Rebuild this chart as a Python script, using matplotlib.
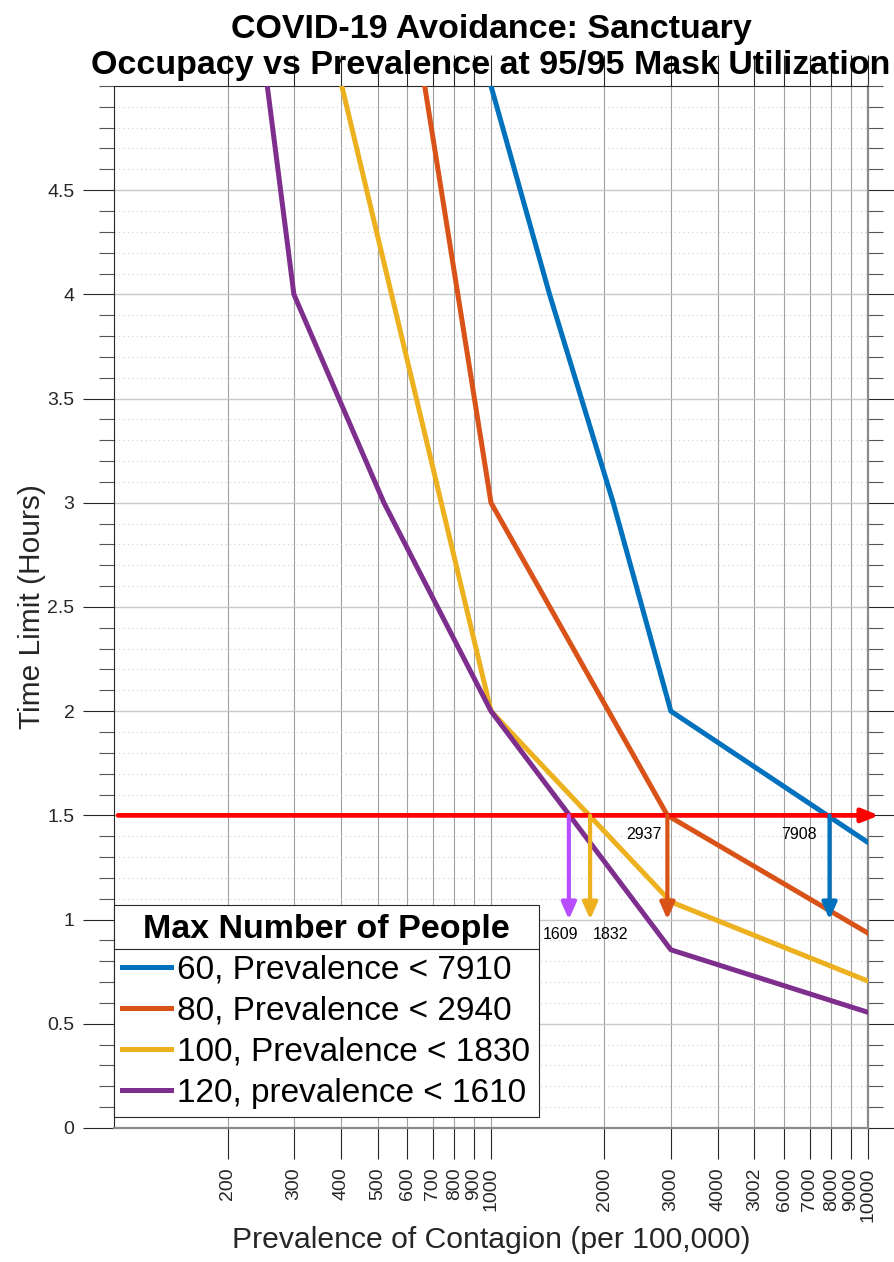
import numpy as np
import matplotlib
matplotlib.use("Agg")
import matplotlib.pyplot as plt
from matplotlib.ticker import FixedLocator, FixedFormatter, MultipleLocator, NullLocator
from matplotlib.lines import Line2D

plt.rcParams["font.family"] = ["Liberation Sans", "DejaVu Sans"]

# prevalence (per 100,000) vs allowed time (hours), one curve per occupancy
prev_60 = [1000, 1430, 2110, 3000, 10000]
hours_60 = [5.0, 4.0, 3.0, 2.0, 1.37]
prev_80 = [667, 1000, 2937, 10000]
hours_80 = [5.0, 3.0, 1.5, 0.935]
prev_100 = [402, 1000, 3000, 10000]
hours_100 = [5.0, 2.0, 1.085, 0.705]
prev_120 = [255, 300, 520, 1000, 3000, 10000]
hours_120 = [5.0, 4.0, 3.0, 2.0, 0.855, 0.555]

series_labels = ["60, Prevalence < 7910", "80, Prevalence < 2940",
                 "100, Prevalence < 1830", "120, prevalence < 1610"]
series_colors = ["#0072BD", "#D95319", "#EDB120", "#7E2F8E"]

# 1.5 hour limit and where each curve crosses it
target_hours = 1.5
arrow_floor = 1.0
red_start = 102.5
red_end = 10700
crossings = [1609, 1832, 2937, 7908]
crossing_colors = ["#B84DFF", "#EDB120", "#D95319", "#0072BD"]

x_ticks = [200, 300, 400, 500, 600, 700, 800, 900, 1000,
           2000, 3000, 4000, 5000, 6000, 7000, 8000, 9000, 10000]
x_ticklabels = ["200", "300", "400", "500", "600", "700", "800", "900", "1000",
                "2000", "3000", "4000", "3002", "6000", "7000", "8000", "9000", "10000"]
y_ticks = [0, 0.5, 1, 1.5, 2, 2.5, 3, 3.5, 4, 4.5]
y_ticklabels = ["0", "0.5", "1", "1.5", "2", "2.5", "3", "3.5", "4", "4.5"]

fig = plt.figure(figsize=(8.95, 12.62), dpi=100)
ax = fig.add_axes([0.1274, 0.1062, 0.8424, 0.8257])

lines = []
for xs, ys, c in zip([prev_60, prev_80, prev_100, prev_120],
                     [hours_60, hours_80, hours_100, hours_120], series_colors):
    (ln,) = ax.plot(xs, ys, color=c, lw=3.6, zorder=3)
    lines.append(ln)

ax.set_xscale("log")
ax.set_xlim(100, 10000)
ax.set_ylim(0, 5)

# horizontal red arrow at the time limit
ax.annotate("", xy=(red_end, target_hours), xytext=(red_start, target_hours),
            arrowprops=dict(arrowstyle="-|>,head_length=0.5,head_width=0.2",
                            color="#FF0000", lw=3.4, shrinkA=0, shrinkB=0,
                            mutation_scale=20),
            annotation_clip=False, zorder=4)

# drop arrows and values
label_offsets = [(-6, -11), (15, -11), (-17, -14), (-22, -14)]
for i, (xv, c) in enumerate(zip(crossings, crossing_colors)):
    ax.annotate("", xy=(xv, arrow_floor), xytext=(xv, target_hours),
                arrowprops=dict(arrowstyle="-|>,head_length=0.5,head_width=0.22",
                                color=c, lw=3.0, shrinkA=0, shrinkB=0,
                                mutation_scale=20),
                zorder=5)
    base_y = arrow_floor if i < 2 else target_hours
    ax.annotate(str(xv), xy=(xv, base_y), xytext=label_offsets[i],
                textcoords="offset points", ha="center", va="center",
                fontsize=11.5, color="black", zorder=6)

ax.xaxis.set_major_locator(FixedLocator(x_ticks))
ax.xaxis.set_major_formatter(FixedFormatter(x_ticklabels))
ax.xaxis.set_minor_locator(NullLocator())
ax.yaxis.set_major_locator(FixedLocator(y_ticks))
ax.yaxis.set_major_formatter(FixedFormatter(y_ticklabels))
ax.yaxis.set_minor_locator(MultipleLocator(0.1))

ax.tick_params(which="major", direction="out", length=22.5, width=0.8,
               top=True, right=True, labelsize=14, color="#262626",
               labelcolor="#262626", pad=6)
ax.tick_params(which="minor", direction="out", length=11, width=0.8,
               left=True, right=True, color="#555555")
plt.setp(ax.get_xticklabels(), rotation=90)

ax.grid(which="major", axis="x", color="#a0a0a0", lw=0.8, zorder=0)
ax.grid(which="major", axis="y", color="#c8c8c8", lw=1.0, zorder=0)
ax.grid(which="minor", axis="y", color="#cfcfcf", lw=0.8, ls=(0, (1, 3)), zorder=0)

for sp in ax.spines.values():
    sp.set_color("#262626")
    sp.set_linewidth(0.8)
ax.spines["bottom"].set_color("#8a8a8a")
ax.spines["bottom"].set_linewidth(1.6)
ax.spines["right"].set_color("#8a8a8a")
ax.spines["right"].set_linewidth(1.6)

ax.set_xlabel("Prevalence of Contagion (per 100,000)", fontsize=21.7,
              color="#262626", labelpad=3)
ax.set_ylabel("Time Limit (Hours)", fontsize=21.5, color="#262626", labelpad=1)
ax.set_title("COVID-19 Avoidance: Sanctuary\nOccupacy vs Prevalence at 95/95 Mask Utilization",
             fontsize=24.5, fontweight="bold", y=1.005, va="bottom", pad=0)

leg = ax.legend(lines, series_labels, title="Max Number of People",
                loc="lower left", bbox_to_anchor=(0, 0.0106), borderaxespad=0,
                fontsize=24, title_fontproperties={"weight": "bold", "size": 24.5},
                frameon=True, fancybox=False, edgecolor="#262626", framealpha=1,
                handlelength=1.45, handletextpad=0.2, borderpad=0.25,
                labelspacing=0.3)
leg.get_frame().set_linewidth(0.8)
leg.set_zorder(10)

# separator under the legend title
fig.canvas.draw()
inv = fig.transFigure.inverted()
fb = leg.get_frame().get_window_extent()
tb = leg.get_title().get_window_extent()
y_sep = tb.y0 - 4
(x0, ys), (x1, _) = inv.transform([(fb.x0, y_sep), (fb.x1, y_sep)])
fig.add_artist(Line2D([x0, x1], [ys, ys], color="#262626", lw=0.8, zorder=11))

fig.savefig("out.png", dpi=100)
